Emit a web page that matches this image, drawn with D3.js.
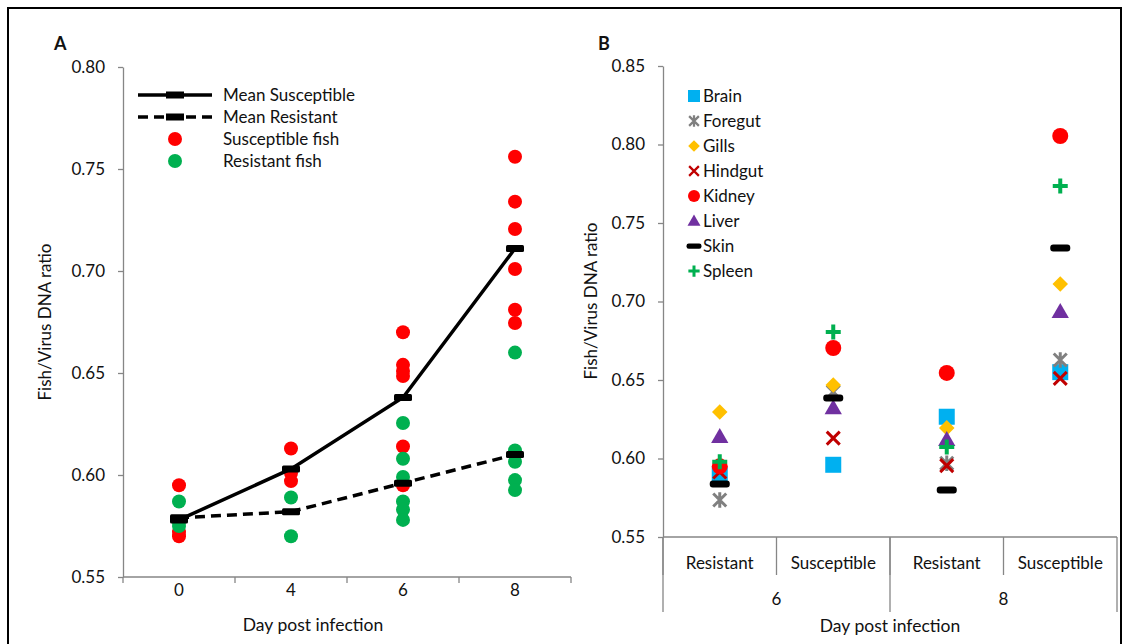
<!DOCTYPE html>
<html>
<head>
<meta charset="utf-8">
<script src="https://cdn.jsdelivr.net/npm/d3@7"></script>
<style>
  body { margin: 0; background: #fff; }
  svg text { font-family: Lato, "Open Sans", sans-serif; fill: #111; }
  .axis line, .axis path { stroke: #868686; stroke-width: 1.3; }
</style>
</head>
<body>
<svg id="chart" width="1133" height="644"></svg>
<script>
// ---- panel A data ----
const daysA = ["0", "4", "6", "8"];
const susceptibleFish = [
  [0.595, 0.572, 0.570],
  [0.613, 0.601, 0.597],
  [0.670, 0.654, 0.651, 0.6485, 0.614, 0.595],
  [0.756, 0.734, 0.7206, 0.701, 0.681, 0.6745]
];
const resistantFish = [
  [0.587, 0.577, 0.575],
  [0.589, 0.570],
  [0.6255, 0.608, 0.599, 0.587, 0.583, 0.578],
  [0.660, 0.612, 0.6065, 0.5975, 0.5926]
];
const meanSusceptible = [0.578, 0.603, 0.638, 0.711];
const meanResistant = [0.579, 0.582, 0.596, 0.610];
const ticksA = [0.55, 0.60, 0.65, 0.70, 0.75, 0.80];

// ---- panel B data ----
const daysB = ["6", "8"];
const statusB = ["Resistant", "Susceptible"];
const tissues = ["Brain", "Foregut", "Gills", "Hindgut", "Kidney", "Liver", "Skin", "Spleen"];
const brain   = [0.5895, 0.596, 0.6266, 0.655];
const foregut = [0.5736, 0.6424, 0.597, 0.6627];
const gills   = [0.6296, 0.6468, 0.6195, 0.7111];
const hindgut = [0.5914, 0.613, 0.5955, 0.651];
const kidney  = [0.595, 0.6704, 0.6545, 0.8054];
const liver   = [0.6137, 0.632, 0.6118, 0.6933];
const skin    = [0.5838, 0.6385, 0.580, 0.734];
const spleen  = [0.598, 0.6806, 0.6073, 0.7736];
const ticksB = [0.55, 0.60, 0.65, 0.70, 0.75, 0.80, 0.85];

const svg = d3.select("#chart");
const fmt = d3.format(".2f");
const FS = "17px";

// frame
svg.append("rect")
  .attr("x", 8).attr("y", 8).attr("width", 1113).attr("height", 660)
  .attr("fill", "none").attr("stroke", "#000").attr("stroke-width", 2);

// =========== PANEL A ===========
const xA = d3.scaleBand().domain(daysA).range([123, 571]).padding(0);
const yA = d3.scaleLinear().domain([0.55, 0.80]).range([577, 67]);
const cxA = d => xA(d) + xA.bandwidth() / 2;

svg.append("text").attr("x", 54).attr("y", 50)
  .style("font-weight", "bold").style("font-size", "18px").text("A");

// y axis
const gyA = svg.append("g").attr("class", "axis").attr("transform", "translate(123,0)")
  .call(d3.axisLeft(yA).tickValues(ticksA).tickFormat(fmt).tickSize(5).tickSizeOuter(0));
gyA.selectAll("text").style("font-size", FS).attr("x", -18);

// x axis
const gxA = svg.append("g").attr("class", "axis").attr("transform", "translate(0,577)");
gxA.append("line").attr("x1", 123).attr("x2", 571).attr("y1", 0).attr("y2", 0);
gxA.selectAll(".sep").data(daysA.concat(["end"])).enter().append("line")
  .attr("x1", (d, i) => i < daysA.length ? xA(d) : xA.range()[1])
  .attr("x2", (d, i) => i < daysA.length ? xA(d) : xA.range()[1])
  .attr("y1", 0).attr("y2", 6);
gxA.selectAll(".lab").data(daysA).enter().append("text")
  .attr("x", d => cxA(d)).attr("y", 19).attr("text-anchor", "middle")
  .style("font-size", FS).text(d => d);

svg.append("text").attr("x", 313).attr("y", 631).attr("text-anchor", "middle")
  .style("font-size", "17.5px").text("Day post infection");
svg.append("text")
  .attr("transform", "translate(51,322) rotate(-90)").attr("text-anchor", "middle")
  .style("font-size", "17px").text("Fish/Virus DNA ratio");

// dots
const redPts = susceptibleFish.flatMap((vals, i) => vals.map(v => ({ day: daysA[i], v })));
const greenPts = resistantFish.flatMap((vals, i) => vals.map(v => ({ day: daysA[i], v })));
svg.selectAll(".red").data(redPts).enter().append("circle")
  .attr("cx", d => cxA(d.day)).attr("cy", d => yA(d.v)).attr("r", 7).attr("fill", "#FF0000");
svg.selectAll(".green").data(greenPts).enter().append("circle")
  .attr("cx", d => cxA(d.day)).attr("cy", d => yA(d.v)).attr("r", 7).attr("fill", "#00B050");

// mean lines
const lineA = d3.line().x((d, i) => cxA(daysA[i])).y(d => yA(d));
svg.append("path").datum(meanSusceptible).attr("d", lineA)
  .attr("fill", "none").attr("stroke", "#000").attr("stroke-width", 3.5);
svg.append("path").datum(meanResistant).attr("d", lineA)
  .attr("fill", "none").attr("stroke", "#000").attr("stroke-width", 3.5)
  .attr("stroke-dasharray", "10,6");
[meanSusceptible, meanResistant].forEach(arr => {
  svg.selectAll(null).data(arr).enter().append("rect")
    .attr("x", (d, i) => cxA(daysA[i]) - 9).attr("y", d => yA(d) - 3.5)
    .attr("width", 18).attr("height", 7).attr("rx", 1.5).attr("fill", "#000");
});

// legend A
const legA = svg.append("g").attr("transform", "translate(138,0)");
legA.append("line").attr("x1", 0).attr("x2", 74).attr("y1", 95).attr("y2", 95)
  .attr("stroke", "#000").attr("stroke-width", 3.5);
legA.append("line").attr("x1", 0).attr("x2", 74).attr("y1", 117).attr("y2", 117)
  .attr("stroke", "#000").attr("stroke-width", 3.5).attr("stroke-dasharray", "10,6");
[95, 117].forEach(y => legA.append("rect").attr("x", 28).attr("y", y - 3.5)
  .attr("width", 18).attr("height", 7).attr("fill", "#000"));
legA.append("circle").attr("cx", 37).attr("cy", 139).attr("r", 7).attr("fill", "#FF0000");
legA.append("circle").attr("cx", 37).attr("cy", 161).attr("r", 7).attr("fill", "#00B050");
const legAText = ["Mean Susceptible", "Mean Resistant", "Susceptible fish", "Resistant fish"];
legA.selectAll("text").data(legAText).enter().append("text")
  .attr("x", 85).attr("y", (d, i) => 101 + i * 22)
  .style("font-size", FS).text(d => d);

// =========== PANEL B ===========
const groupKeys = daysB.flatMap(d => statusB.map(s => d + "|" + s));
const xB = d3.scaleBand().domain(groupKeys).range([663, 1117]).padding(0);
const dayScale = d3.scaleBand().domain(daysB).range([663, 1117]).padding(0);
const yB = d3.scaleLinear().domain([0.55, 0.85]).range([537, 66]);
const cxB = k => xB(k) + xB.bandwidth() / 2;

svg.append("text").attr("x", 598).attr("y", 50)
  .style("font-weight", "bold").style("font-size", "18px").text("B");

const gyB = svg.append("g").attr("class", "axis").attr("transform", "translate(663,0)")
  .call(d3.axisLeft(yB).tickValues(ticksB).tickFormat(fmt).tickSize(5).tickSizeOuter(0));
gyB.selectAll("text").style("font-size", FS).attr("x", -18);

const gxB = svg.append("g").attr("class", "axis").attr("transform", "translate(0,537)");
gxB.append("line").attr("x1", 663).attr("x2", 1117).attr("y1", 0).attr("y2", 0);
// short separators between status categories
gxB.selectAll(".inner").data(groupKeys).enter().append("line")
  .attr("x1", d => xB(d)).attr("x2", d => xB(d)).attr("y1", 0).attr("y2", 38);
// long separators between day groups
gxB.selectAll(".outer").data(daysB.concat(["end"])).enter().append("line")
  .attr("x1", (d, i) => i < daysB.length ? dayScale(d) : dayScale.range()[1])
  .attr("x2", (d, i) => i < daysB.length ? dayScale(d) : dayScale.range()[1])
  .attr("y1", 0).attr("y2", 75);
gxB.selectAll(".lab").data(groupKeys).enter().append("text")
  .attr("x", d => cxB(d)).attr("y", 32).attr("text-anchor", "middle")
  .style("font-size", FS).text(d => d.split("|")[1]);
gxB.selectAll(".daylab").data(daysB).enter().append("text")
  .attr("x", d => dayScale(d) + dayScale.bandwidth() / 2).attr("y", 68).attr("text-anchor", "middle")
  .style("font-size", FS).text(d => d);

svg.append("text").attr("x", 890).attr("y", 632).attr("text-anchor", "middle")
  .style("font-size", "17.5px").text("Day post infection");
svg.append("text")
  .attr("transform", "translate(597,301) rotate(-90)").attr("text-anchor", "middle")
  .style("font-size", "17px").text("Fish/Virus DNA ratio");

// marker drawers (s = scale factor)
const starPath = r => `M${-r},${-r}L${r},${r}M${r},${-r}L${-r},${r}M0,${-r * 1.2}L0,${r * 1.2}`;
const timesPath = r => `M${-r},${-r}L${r},${r}M${r},${-r}L${-r},${r}`;
const plusPath = r => `M${-r},0L${r},0M0,${-r}L0,${r}`;
const tissueStyle = {
  Brain:   { color: "#00B0F0", draw: (g, s) => g.append("rect").attr("x", -8 * s).attr("y", -8 * s).attr("width", 16 * s).attr("height", 16 * s) },
  Foregut: { color: "#808080", draw: (g, s) => g.append("path").attr("d", starPath(6.5 * s)).attr("fill", "none").attr("stroke-width", 3 * s) },
  Gills:   { color: "#FFC000", draw: (g, s) => g.append("rect").attr("x", -5.5 * s).attr("y", -5.5 * s).attr("width", 11 * s).attr("height", 11 * s).attr("transform", "rotate(45)") },
  Hindgut: { color: "#C00000", draw: (g, s) => g.append("path").attr("d", timesPath(6.5 * s)).attr("fill", "none").attr("stroke-width", 3 * s) },
  Kidney:  { color: "#FF0000", draw: (g, s) => g.append("circle").attr("r", 8 * s) },
  Liver:   { color: "#7030A0", draw: (g, s) => g.append("path").attr("d", d3.symbol(d3.symbolTriangle, 130 * s * s)()).attr("transform", "translate(0,1)") },
  Skin:    { color: "#000000", draw: (g, s) => g.append("rect").attr("x", -10 * s).attr("y", -3.5 * s).attr("width", 20 * s).attr("height", 7 * s).attr("rx", 3 * s) },
  Spleen:  { color: "#00B050", draw: (g, s) => g.append("path").attr("d", plusPath(7.5 * s)).attr("fill", "none").attr("stroke-width", 4 * s) }
};
const tissueValues = [brain, foregut, gills, hindgut, kidney, liver, skin, spleen];

function marker(parent, tissue, x, y, s) {
  const st = tissueStyle[tissue];
  const g = parent.append("g").attr("transform", `translate(${x},${y})`)
    .attr("fill", st.color);
  const el = st.draw(g, s);
  if (el.attr("fill") === "none") el.attr("stroke", st.color);
  return g;
}

tissues.forEach((t, ti) => {
  tissueValues[ti].forEach((v, gi) => {
    marker(svg, t, cxB(groupKeys[gi]), yB(v), 1);
  });
});

// legend B
const legB = svg.append("g");
tissues.forEach((t, i) => {
  const y = 96 + i * 25;
  marker(legB, t, 694, y, 0.75);
  legB.append("text").attr("x", 703).attr("y", y + 6).style("font-size", FS).text(t);
});
</script>
</body>
</html>
